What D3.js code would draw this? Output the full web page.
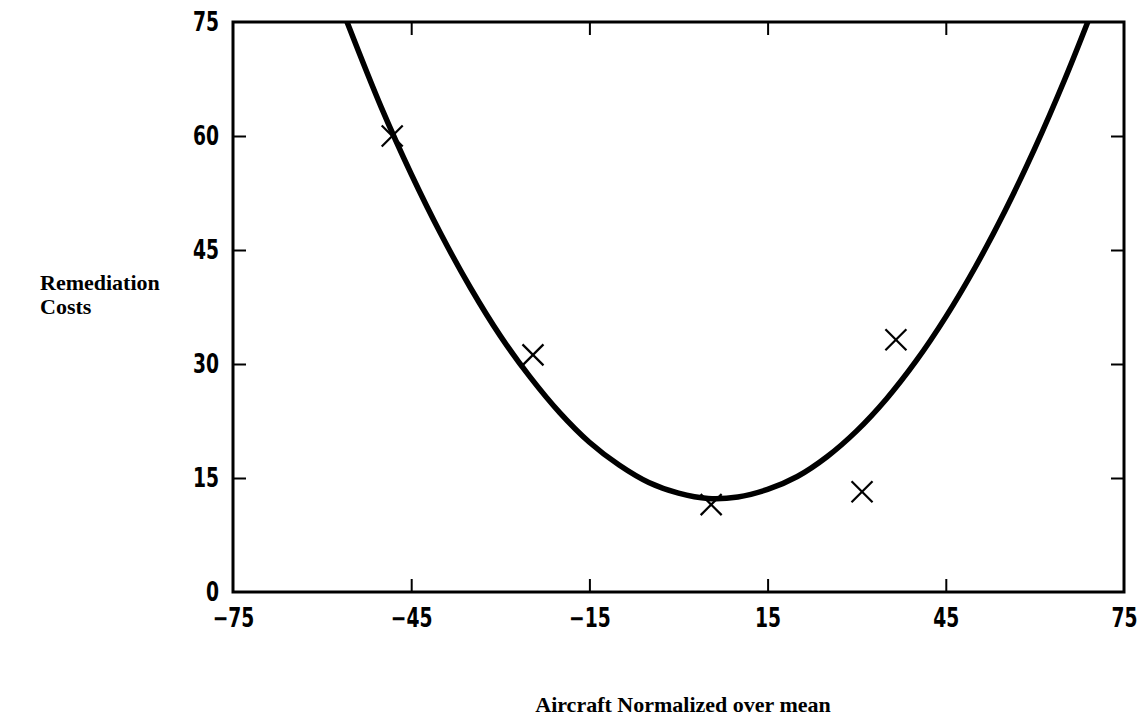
<!DOCTYPE html>
<html>
<head>
<meta charset="utf-8">
<script src="https://cdn.jsdelivr.net/npm/d3@7"></script>
<style>
  body { margin: 0; background: #fff; }
  .tick text { font-family: "DejaVu Sans", sans-serif; font-weight: bold; font-size: 26px; }
  .title { font-family: "Liberation Serif", "DejaVu Serif", serif; font-weight: bold; font-size: 22px; }
</style>
</head>
<body>
<div id="chart"></div>
<script>
const [svgW, svgH] = [1146, 722];
const margin = { left: 233, right: 22, top: 22, bottom: 130 };

// tick values
const xTicks = [-75, -45, -15, 15, 45, 75];
const yTicks = [0, 15, 30, 45, 60, 75];

// observed points (crosses)
const pointX = [-48.2, -24.5, 5.5, 30.9, 36.6];
const pointY = [60.0, 31.2, 11.5, 13.2, 33.2];

// fitted curve
const curveX = [-55.8, -50, -45, -40, -35, -30, -25, -20, -15, -10, -5, 0, 5, 10, 15, 20, 25, 30, 35, 40, 45, 50, 55, 60, 65, 68.9];
const curveY = [75, 63.7, 55.0, 47.1, 40.0, 33.7, 28.3, 23.6, 19.7, 16.7, 14.4, 13.0, 12.3, 12.5, 13.5, 15.2, 17.8, 21.2, 25.4, 30.4, 36.2, 42.8, 50.2, 58.4, 67.4, 75];

const w = svgW - margin.left - margin.right;
const h = svgH - margin.top - margin.bottom;

const svg = d3.select("#chart").append("svg")
    .attr("width", svgW).attr("height", svgH);

const x = d3.scaleLinear().domain([-75, 75]).range([margin.left, margin.left + w]);
const y = d3.scaleLinear().domain([0, 75]).range([margin.top + h, margin.top]);

svg.append("clipPath").attr("id", "clip")
    .append("rect").attr("x", margin.left).attr("y", margin.top).attr("width", w).attr("height", h);

// axes with inward ticks
const tickLen = 13;
const gBottom = svg.append("g").attr("transform", `translate(0,${margin.top + h})`)
    .call(d3.axisBottom(x).tickValues(xTicks).tickSize(-tickLen).tickPadding(tickLen + 4).tickFormat(d3.format("d")));
const gTop = svg.append("g").attr("transform", `translate(0,${margin.top})`)
    .call(d3.axisTop(x).tickValues(xTicks).tickSize(-tickLen).tickFormat(""));
const gLeft = svg.append("g").attr("transform", `translate(${margin.left},0)`)
    .call(d3.axisLeft(y).tickValues(yTicks).tickSize(-tickLen).tickPadding(tickLen + 1).tickFormat(d3.format("d")));
const gRight = svg.append("g").attr("transform", `translate(${margin.left + w},0)`)
    .call(d3.axisRight(y).tickValues(yTicks).tickSize(-tickLen).tickFormat(""));

[gBottom, gTop, gLeft, gRight].forEach(function (g) {
    g.select(".domain").remove();
    g.selectAll(".tick line").attr("stroke", "#000").attr("stroke-width", 2);
    g.selectAll(".tick text").attr("fill", "#000");
});
// no ticks on the frame corners
[gBottom, gTop].forEach(g => g.selectAll(".tick").filter(d => d === -75 || d === 75).select("line").remove());
[gLeft, gRight].forEach(g => g.selectAll(".tick").filter(d => d === 0 || d === 75).select("line").remove());

gBottom.selectAll(".tick text").text(d => d < 0 ? "\u2212" + Math.abs(d) : d);

// squeeze the tick labels so they look condensed
[gBottom, gLeft].forEach(function (g) {
    g.selectAll(".tick text").each(function () {
        const t = d3.select(this);
        const tx = +t.attr("x") || 0, ty = +t.attr("y") || 0;
        t.attr("x", 0).attr("y", 0).attr("transform", `translate(${tx},${ty}) scale(0.72,1)`);
    });
});

svg.append("rect")
    .attr("x", margin.left).attr("y", margin.top).attr("width", w).attr("height", h)
    .attr("fill", "none").attr("stroke", "#000").attr("stroke-width", 3);

// curve
const curveData = curveX.map((d, i) => [d, curveY[i]]);
svg.append("path")
    .attr("clip-path", "url(#clip)")
    .datum(curveData)
    .attr("fill", "none").attr("stroke", "#000").attr("stroke-width", 5.5)
    .attr("d", d3.line().x(d => x(d[0])).y(d => y(d[1])).curve(d3.curveCatmullRom));

// crosses
const s = 10.5;
const pts = svg.append("g").attr("stroke", "#000").attr("stroke-width", 2.2);
pointX.forEach(function (px, i) {
    const cx = x(px), cy = y(pointY[i]);
    pts.append("line").attr("x1", cx - s).attr("y1", cy - s).attr("x2", cx + s).attr("y2", cy + s);
    pts.append("line").attr("x1", cx - s).attr("y1", cy + s).attr("x2", cx + s).attr("y2", cy - s);
});

// titles
svg.append("text").attr("class", "title").attr("x", 40).attr("y", 290).text("Remediation");
svg.append("text").attr("class", "title").attr("x", 40).attr("y", 314).text("Costs");
svg.append("text").attr("class", "title").attr("x", 683).attr("y", 712)
    .attr("text-anchor", "middle").text("Aircraft Normalized over mean");
</script>
</body>
</html>
